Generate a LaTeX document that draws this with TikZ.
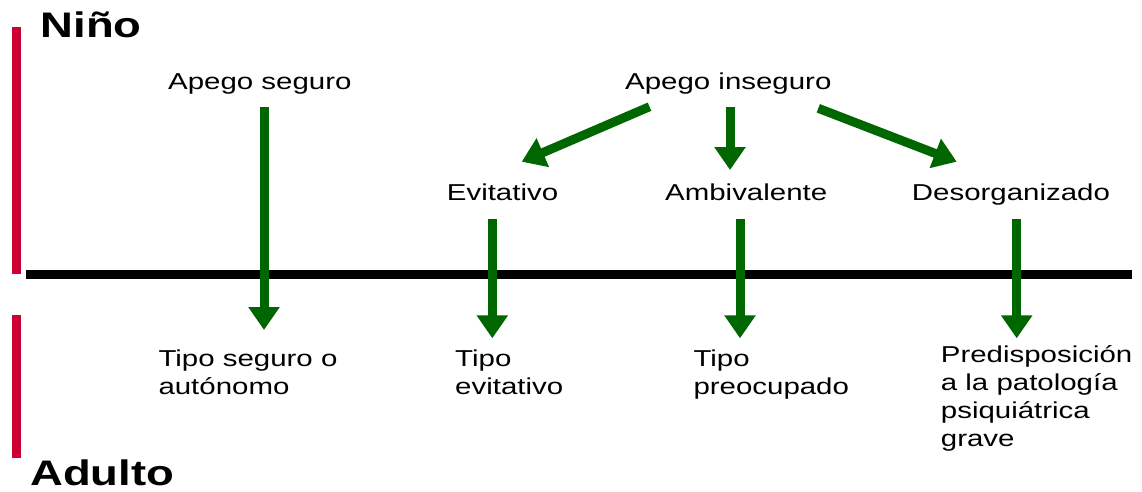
\documentclass[tikz,border=0pt]{standalone}
\usepackage{fontspec}
\setmainfont{Liberation Sans}[FakeStretch=1.28]
\usetikzlibrary{arrows.meta}
\definecolor{arrowgreen}{RGB}{0,102,0}
\definecolor{barred}{RGB}{204,0,51}
\begin{document}
\begin{tikzpicture}[x=1pt,y=-1pt,
  lbl/.style={inner sep=0pt, font=\fontsize{23}{28}\selectfont, anchor=base west},
  multi/.style={inner sep=0pt, font=\fontsize{23}{28}\selectfont, anchor=north west, align=left},
  headlbl/.style={inner sep=0pt, font=\fontsize{35.5}{40}\selectfont\bfseries, anchor=base west},
  garrow/.style={draw=arrowgreen, line width=9pt, -{Triangle[length=23pt,width=30pt]}},
  redbar/.style={draw=barred, line width=9pt},
  timeline/.style={draw=black, line width=9pt}]
\useasboundingbox (0,0) rectangle (1142,491);

% side bars and timeline
\coordinate (rb1t) at (16.5,27);
\coordinate (rb1b) at (16.5,274);
\coordinate (rb2t) at (16.5,315);
\coordinate (rb2b) at (16.5,458);
\draw[redbar] (rb1t) -- (rb1b);
\draw[redbar] (rb2t) -- (rb2b);
\coordinate (tl0) at (26,274.5);
\coordinate (tl1) at (1132,274.5);
\draw[timeline] (tl0) -- (tl1);

% headings
\node[headlbl] (nino) at (40.5,37.3) {Niño};
\node[headlbl] (adulto) at (30,485.7) {Adulto};

% top labels
\node[lbl] (aseg) at (168,89.3) {Apego seguro};
\node[lbl] (ainseg) at (625,89.3) {Apego inseguro};
\node[lbl] (evit) at (446.7,200.7) {Evitativo};
\node[lbl] (ambi) at (665,200.7) {Ambivalente};
\node[lbl] (deso) at (911.7,200.7) {Desorganizado};

% bottom labels
\node[multi] (tseg) at (158.3,349.5) {Tipo seguro o\\autónomo};
\node[multi] (tevit) at (455,349.5) {Tipo\\evitativo};
\node[multi] (tpreo) at (693.3,349.5) {Tipo\\preocupado};
\node[multi] (pred) at (940.7,345.5) {Predisposición\\a la patología\\psiquiátrica\\grave};

% arrow endpoints
\coordinate (a1s) at (264,107);
\coordinate (a1e) at (264,330);
\coordinate (a2s) at (649.5,106.7);
\coordinate (a2e) at (521.7,161.7);
\coordinate (a3s) at (730,106.7);
\coordinate (a3e) at (730,170);
\coordinate (a4s) at (818.3,108.3);
\coordinate (a4e) at (956.7,161.7);
\coordinate (a5s) at (492.3,219);
\coordinate (a5e) at (492.3,338.3);
\coordinate (a6s) at (740,219);
\coordinate (a6e) at (740,338.3);
\coordinate (a7s) at (1016.7,219);
\coordinate (a7e) at (1016.7,338.3);

\draw[garrow] (a1s) -- (a1e);
\draw[garrow] (a2s) -- (a2e);
\draw[garrow] (a3s) -- (a3e);
\draw[garrow] (a4s) -- (a4e);
\draw[garrow] (a5s) -- (a5e);
\draw[garrow] (a6s) -- (a6e);
\draw[garrow] (a7s) -- (a7e);
\end{tikzpicture}
\end{document}
